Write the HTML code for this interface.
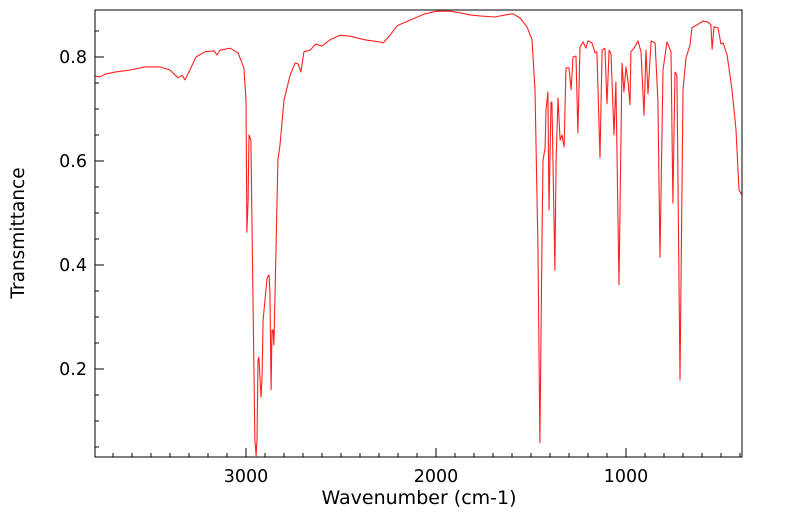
<!DOCTYPE html>
<html><head><meta charset="utf-8"><style>
body{margin:0;background:#fff;}
svg{display:block;font-family:"DejaVu Sans","Liberation Sans",sans-serif;}
</style></head><body>
<svg id="chart" width="799" height="516"></svg>
<script>
const wavenumbers=[3795,3768,3742,3690,3611,3532,3453,3400,3358,3337,3321,3295,3263,3216,3168,3153,3137,3084,3042,3011,3000,2995,2989,2984,2974,2963,2953,2947,2942,2937,2932,2926,2921,2916,2910,2900,2889,2879,2874,2868,2863,2858,2853,2842,2832,2821,2800,2768,2742,2726,2711,2695,2663,2632,2600,2558,2505,2453,2374,2295,2279,2242,2205,2137,2058,1995,1926,1874,1821,1768,1690,1637,1595,1558,1521,1495,1479,1463,1453,1442,1437,1426,1421,1411,1405,1395,1390,1374,1368,1358,1347,1337,1326,1316,1300,1289,1279,1263,1253,1242,1226,1211,1200,1179,1163,1153,1137,1126,1111,1100,1089,1079,1063,1053,1037,1021,1011,1000,989,979,974,958,937,921,905,895,884,868,847,832,821,805,784,763,753,742,732,716,700,684,663,653,626,595,568,553,547,537,516,500,489,468,442,421,405,390];
const transmittance=[0.763,0.762,0.767,0.771,0.775,0.781,0.781,0.775,0.760,0.765,0.756,0.775,0.800,0.810,0.812,0.804,0.813,0.817,0.808,0.779,0.717,0.463,0.525,0.650,0.640,0.333,0.063,0.033,0.063,0.217,0.223,0.179,0.146,0.179,0.294,0.333,0.375,0.381,0.352,0.160,0.275,0.275,0.246,0.429,0.602,0.631,0.717,0.765,0.788,0.787,0.771,0.810,0.813,0.825,0.821,0.833,0.842,0.840,0.833,0.829,0.827,0.842,0.860,0.871,0.883,0.888,0.888,0.885,0.881,0.879,0.877,0.881,0.883,0.875,0.858,0.833,0.737,0.429,0.058,0.448,0.602,0.625,0.698,0.733,0.506,0.713,0.713,0.390,0.602,0.721,0.640,0.650,0.627,0.779,0.779,0.737,0.800,0.802,0.654,0.819,0.829,0.817,0.831,0.827,0.808,0.810,0.606,0.813,0.817,0.710,0.813,0.806,0.650,0.752,0.362,0.788,0.733,0.781,0.752,0.708,0.810,0.817,0.831,0.810,0.688,0.813,0.729,0.831,0.827,0.717,0.415,0.775,0.829,0.810,0.519,0.771,0.765,0.179,0.737,0.798,0.823,0.856,0.862,0.869,0.867,0.862,0.815,0.858,0.856,0.825,0.827,0.804,0.737,0.660,0.544,0.535];
const xTickLabels=[3000,2000,1000];
const yTickLabels=[0.2,0.4,0.6,0.8];

const L=95,R=742,T=10,B=457;
const xs=w=>246+(3000-w)*0.19;
const ys=v=>57+(0.8-v)*520;
const svg=document.getElementById('chart');
const NS='http://www.w3.org/2000/svg';
function mk(tag,attrs){const e=document.createElementNS(NS,tag);for(const k in attrs)e.setAttribute(k,attrs[k]);svg.appendChild(e);return e;}

for(let w=3700;w>=400;w-=100){const x=xs(w);if(x<L||x>R)continue;const major=w%1000===0;
 const t=mk('line',{x1:x,x2:x,y1:B,y2:B-(major?9:4),stroke:'#000','stroke-width':1});
 
 }
for(let i=1;i<=17;i++){const v=i*0.05;const y=ys(v);if(y<T||y>B)continue;const major=Math.abs(v*10-Math.round(v*10))<1e-6&&Math.round(v*10)%2===0;
 const t=mk('line',{x1:L,x2:L+(major?9:4),y1:y,y2:y,stroke:'#000','stroke-width':1});
 
 }
xTickLabels.forEach(w=>{const t=mk('text',{x:xs(w),y:482,'text-anchor':'middle','font-size':17.5,fill:'#000'});t.textContent=w;
 
 });
yTickLabels.forEach(v=>{const t=mk('text',{x:87,y:ys(v)+6,'text-anchor':'end','font-size':17.5,fill:'#000'});t.textContent=v.toFixed(1);
 
 });

const pts=wavenumbers.map((w,i)=>xs(w).toFixed(1)+','+ys(transmittance[i]).toFixed(1)).join(' ');
const line=mk('polyline',{points:pts,fill:'none',stroke:'#ff2020','stroke-width':1.1,'stroke-linejoin':'round'});



const frame=mk('rect',{x:L,y:T,width:R-L,height:B-T,fill:'none',stroke:'#000','stroke-width':1});



const xt=mk('text',{x:419,y:504,'text-anchor':'middle','font-size':19,fill:'#000'});xt.textContent='Wavenumber (cm-1)';


const yt=mk('text',{x:24,y:233,'text-anchor':'middle','font-size':18.5,fill:'#000',transform:'rotate(-90 24 233)'});yt.textContent='Transmittance';


</script>
</body></html>
